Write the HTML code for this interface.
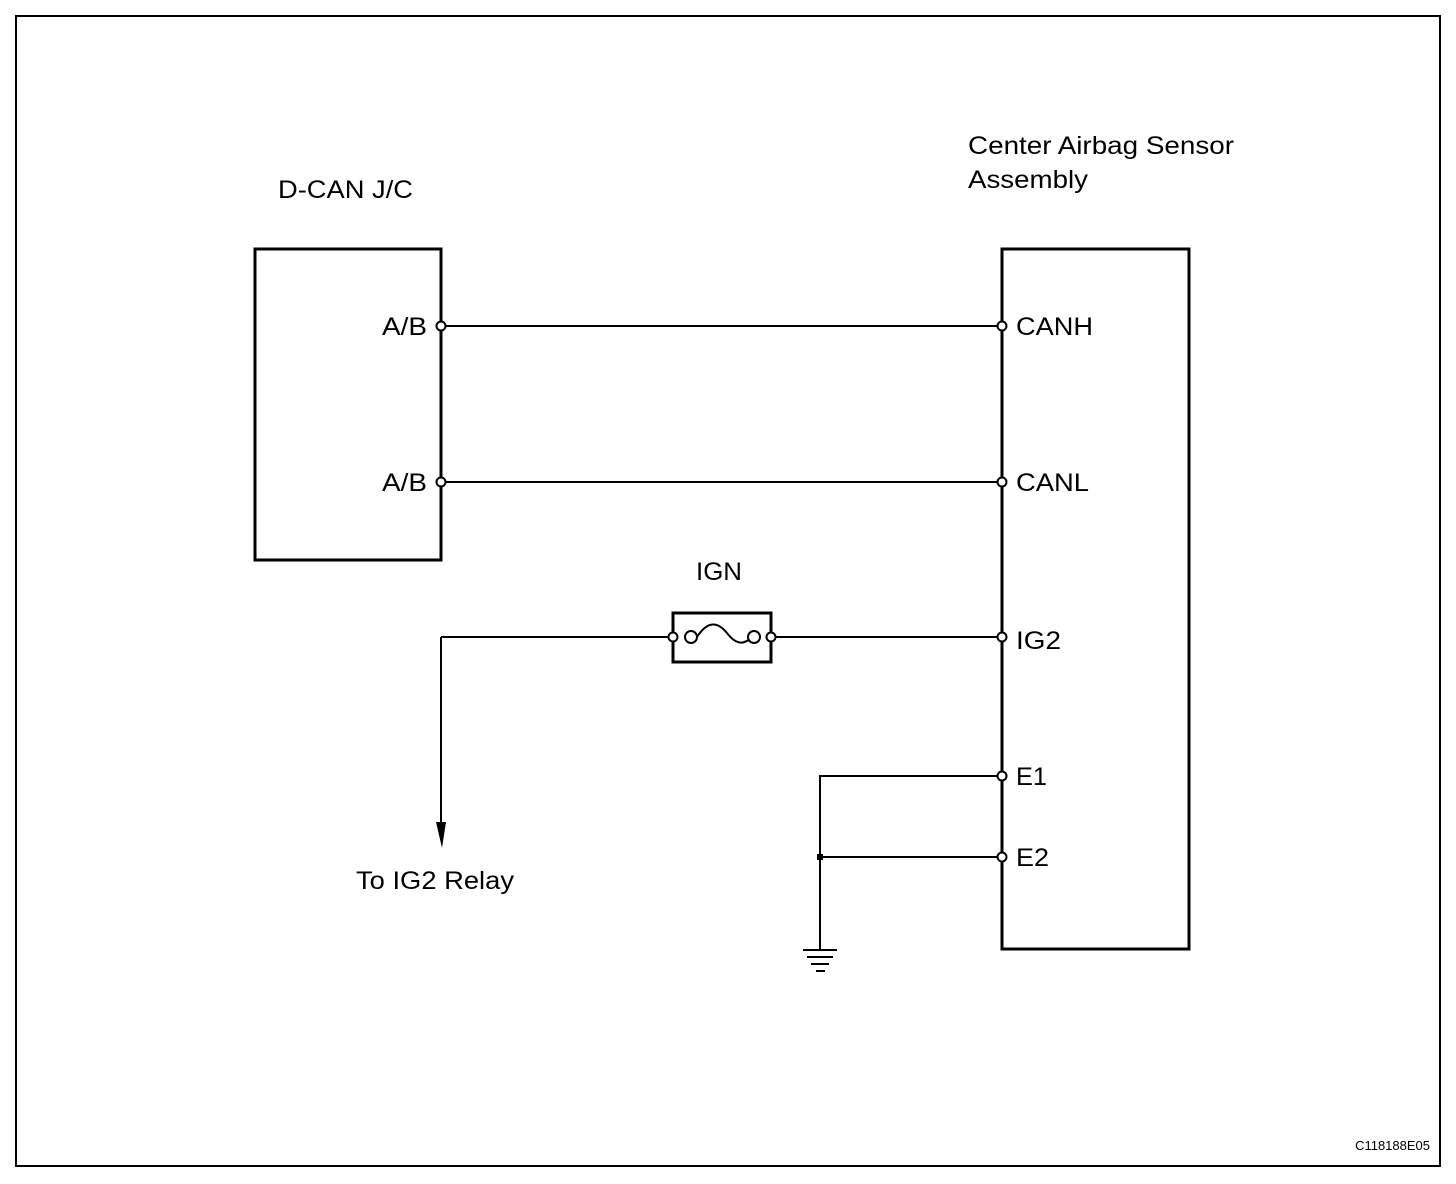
<!DOCTYPE html>
<html><head><meta charset="utf-8"><style>
html,body{margin:0;padding:0;background:#fff;}
svg{display:block;}
text{font-family:"Liberation Sans",Arial,sans-serif;fill:#000;}
</style></head><body>
<svg width="1456" height="1184" viewBox="0 0 1456 1184" xmlns="http://www.w3.org/2000/svg">
<rect x="16" y="16" width="1424" height="1150" fill="none" stroke="#000" stroke-width="2"/>
<text x="278" y="198" font-size="25" textLength="135" lengthAdjust="spacingAndGlyphs">D-CAN J/C</text>
<text x="968" y="154" font-size="25" textLength="266" lengthAdjust="spacingAndGlyphs">Center Airbag Sensor</text>
<text x="968" y="188" font-size="25" textLength="120" lengthAdjust="spacingAndGlyphs">Assembly</text>
<rect x="255" y="249" width="186" height="311" fill="none" stroke="#000" stroke-width="3"/>
<rect x="1002" y="249" width="187" height="700" fill="none" stroke="#000" stroke-width="3"/>
<g stroke="#000" stroke-width="2" fill="none">
<line x1="441" y1="326" x2="1002" y2="326"/>
<line x1="441" y1="482" x2="1002" y2="482"/>
<line x1="441" y1="637" x2="672" y2="637"/>
<line x1="441" y1="637" x2="441" y2="830"/>
<line x1="772" y1="637" x2="1002" y2="637"/>
<polyline points="1002,776 820,776 820,950"/>
<line x1="820" y1="857" x2="1002" y2="857"/>
<line x1="803" y1="950" x2="837" y2="950"/>
<line x1="807" y1="957" x2="833" y2="957"/>
<line x1="811" y1="964" x2="829" y2="964"/>
<line x1="816" y1="971" x2="825" y2="971"/>
</g>
<polygon points="436,822 446,822 442,848" fill="#000"/>
<rect x="817" y="854" width="6" height="6" fill="#000"/>
<rect x="673" y="613" width="98" height="49" fill="none" stroke="#000" stroke-width="3"/>
<path d="M697,637 C708,620 718,622 727,633 C736,645 744,645 752,637" fill="none" stroke="#000" stroke-width="2"/>
<g fill="#fff" stroke="#000" stroke-width="2">
<circle cx="691" cy="637" r="6"/>
<circle cx="754" cy="637" r="6"/>
<circle cx="673" cy="637" r="4.5"/>
<circle cx="771" cy="637" r="4.5"/>
<circle cx="441" cy="326" r="4.5"/>
<circle cx="441" cy="482" r="4.5"/>
<circle cx="1002" cy="326" r="4.5"/>
<circle cx="1002" cy="482" r="4.5"/>
<circle cx="1002" cy="637" r="4.5"/>
<circle cx="1002" cy="776" r="4.5"/>
<circle cx="1002" cy="857" r="4.5"/>
</g>
<text x="382" y="335" font-size="25" textLength="45" lengthAdjust="spacingAndGlyphs">A/B</text>
<text x="382" y="491" font-size="25" textLength="45" lengthAdjust="spacingAndGlyphs">A/B</text>
<text x="1016" y="335" font-size="25" textLength="77" lengthAdjust="spacingAndGlyphs">CANH</text>
<text x="1016" y="491" font-size="25" textLength="73" lengthAdjust="spacingAndGlyphs">CANL</text>
<text x="1016" y="649" font-size="25" textLength="45" lengthAdjust="spacingAndGlyphs">IG2</text>
<text x="1016" y="785" font-size="25" textLength="31" lengthAdjust="spacingAndGlyphs">E1</text>
<text x="1016" y="866" font-size="25" textLength="33" lengthAdjust="spacingAndGlyphs">E2</text>
<text x="696" y="580" font-size="25" textLength="46" lengthAdjust="spacingAndGlyphs">IGN</text>
<text x="356" y="889" font-size="25" textLength="158" lengthAdjust="spacingAndGlyphs">To IG2 Relay</text>
<text x="1430" y="1150" font-size="13" text-anchor="end">C118188E05</text>
</svg>
</body></html>
